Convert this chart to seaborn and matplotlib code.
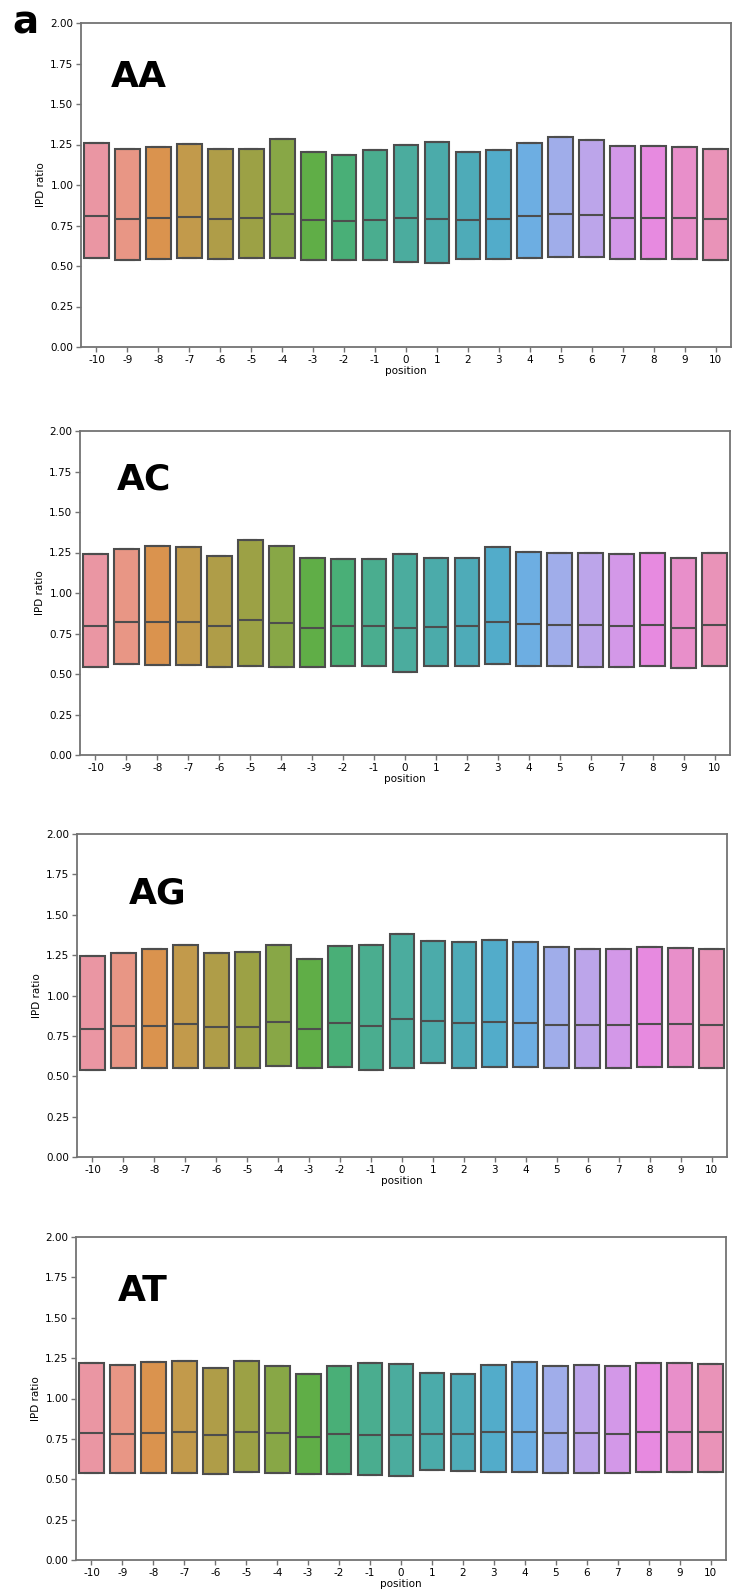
import numpy as np
import pandas as pd
import matplotlib
matplotlib.use("Agg")
import matplotlib.pyplot as plt
import seaborn as sns

positions = list(range(-10, 11))

# AA
aa_q1  = [0.551, 0.539, 0.541, 0.547, 0.543, 0.547, 0.551, 0.539, 0.539, 0.537, 0.524,
          0.518, 0.541, 0.545, 0.549, 0.557, 0.553, 0.543, 0.541, 0.541, 0.539]
aa_med = [0.809, 0.788, 0.794, 0.805, 0.792, 0.794, 0.819, 0.782, 0.778, 0.784, 0.796,
          0.792, 0.786, 0.792, 0.809, 0.823, 0.815, 0.798, 0.794, 0.794, 0.790]
aa_q3  = [1.260, 1.223, 1.234, 1.254, 1.221, 1.221, 1.281, 1.203, 1.188, 1.215, 1.248,
          1.264, 1.203, 1.215, 1.258, 1.295, 1.279, 1.242, 1.238, 1.236, 1.223]
# AC
ac_q1  = [0.541, 0.560, 0.556, 0.556, 0.545, 0.550, 0.541, 0.541, 0.550, 0.550, 0.512,
          0.550, 0.548, 0.560, 0.550, 0.548, 0.545, 0.541, 0.548, 0.537, 0.548]
ac_med = [0.797, 0.818, 0.822, 0.820, 0.797, 0.831, 0.814, 0.785, 0.795, 0.797, 0.785,
          0.791, 0.795, 0.820, 0.808, 0.804, 0.804, 0.797, 0.804, 0.785, 0.804]
ac_q3  = [1.240, 1.271, 1.291, 1.281, 1.227, 1.326, 1.293, 1.213, 1.211, 1.209, 1.242,
          1.217, 1.213, 1.283, 1.254, 1.248, 1.244, 1.238, 1.250, 1.215, 1.244]
# AG
ag_q1  = [0.541, 0.554, 0.552, 0.554, 0.554, 0.550, 0.564, 0.550, 0.558, 0.539, 0.548,
          0.579, 0.552, 0.558, 0.560, 0.552, 0.554, 0.554, 0.556, 0.556, 0.554]
ag_med = [0.795, 0.810, 0.814, 0.826, 0.808, 0.808, 0.835, 0.795, 0.829, 0.812, 0.853,
          0.845, 0.831, 0.837, 0.831, 0.816, 0.820, 0.816, 0.822, 0.822, 0.816]
ag_q3  = [1.244, 1.262, 1.287, 1.314, 1.264, 1.267, 1.314, 1.225, 1.308, 1.310, 1.382,
          1.339, 1.329, 1.343, 1.331, 1.298, 1.289, 1.285, 1.298, 1.295, 1.289]
# AT
at_q1  = [0.541, 0.537, 0.539, 0.539, 0.535, 0.543, 0.541, 0.531, 0.535, 0.525, 0.519,
          0.556, 0.550, 0.546, 0.546, 0.541, 0.539, 0.539, 0.543, 0.543, 0.543]
at_med = [0.789, 0.783, 0.789, 0.791, 0.775, 0.793, 0.785, 0.762, 0.783, 0.775, 0.777,
          0.781, 0.781, 0.791, 0.795, 0.785, 0.787, 0.783, 0.791, 0.791, 0.791]
at_q3  = [1.221, 1.209, 1.229, 1.233, 1.188, 1.231, 1.202, 1.149, 1.202, 1.219, 1.215,
          1.155, 1.153, 1.205, 1.223, 1.202, 1.207, 1.202, 1.217, 1.217, 1.215]

panels = [
    ("AA", aa_q1, aa_med, aa_q3),
    ("AC", ac_q1, ac_med, ac_q3),
    ("AG", ag_q1, ag_med, ag_q3),
    ("AT", at_q1, at_med, at_q3),
]

W, H = 735, 1593
# axes pixel boxes: left, right, top, bottom
boxes = [(81, 731, 23, 347), (80, 730, 431, 755), (77, 727, 834, 1157), (76, 726, 1237, 1560)]
title_pos = [(0.046, 0.833), (0.057, 0.849), (0.080, 0.817), (0.065, 0.833)]

fig = plt.figure(figsize=(W / 100, H / 100), dpi=100)
pal = sns.husl_palette(len(positions), l=.7)
spine_col = "0.45"

for (name, q1, med, q3), (l, r, t, b), (tx, ty) in zip(panels, boxes, title_pos):
    ax = fig.add_axes([l / W, 1 - b / H, (r - l) / W, (b - t) / H])
    rows = []
    for p, a, m, c in zip(positions, q1, med, q3):
        for v in (a, a, m, c, c):
            rows.append({"position": str(p), "IPD ratio": v})
    df = pd.DataFrame(rows)
    order = [str(p) for p in positions]
    sns.boxplot(data=df, x="position", y="IPD ratio", hue="position", order=order,
                hue_order=order, palette=pal, legend=False, showfliers=False,
                whis=0, width=0.8, linewidth=1.5, linecolor="#4d4d4d",
                saturation=0.75, ax=ax)
    ax.set_ylim(0, 2)
    ax.set_yticks(np.arange(0, 2.01, 0.25))
    ax.set_yticklabels([f"{v:.2f}" for v in np.arange(0, 2.01, 0.25)])
    ax.set_xlim(-0.5, len(positions) - 0.5)
    ax.tick_params(labelsize=7.5, length=3.5, width=1, color=spine_col, pad=2)
    ax.set_xlabel("position", fontsize=7.5, labelpad=1)
    ax.set_ylabel("IPD ratio", fontsize=7.5, labelpad=3)
    for s in ax.spines.values():
        s.set_visible(True)
        s.set_color(spine_col)
        s.set_linewidth(1.3)
    ax.text(tx, ty, name, transform=ax.transAxes, ha="left", va="center",
            fontsize=26, fontweight="bold")

fig.text(12 / W, 1 - 22 / H, "a", ha="left", va="center", fontsize=28, fontweight="bold")
fig.savefig("out.png", dpi=100, facecolor="white")
